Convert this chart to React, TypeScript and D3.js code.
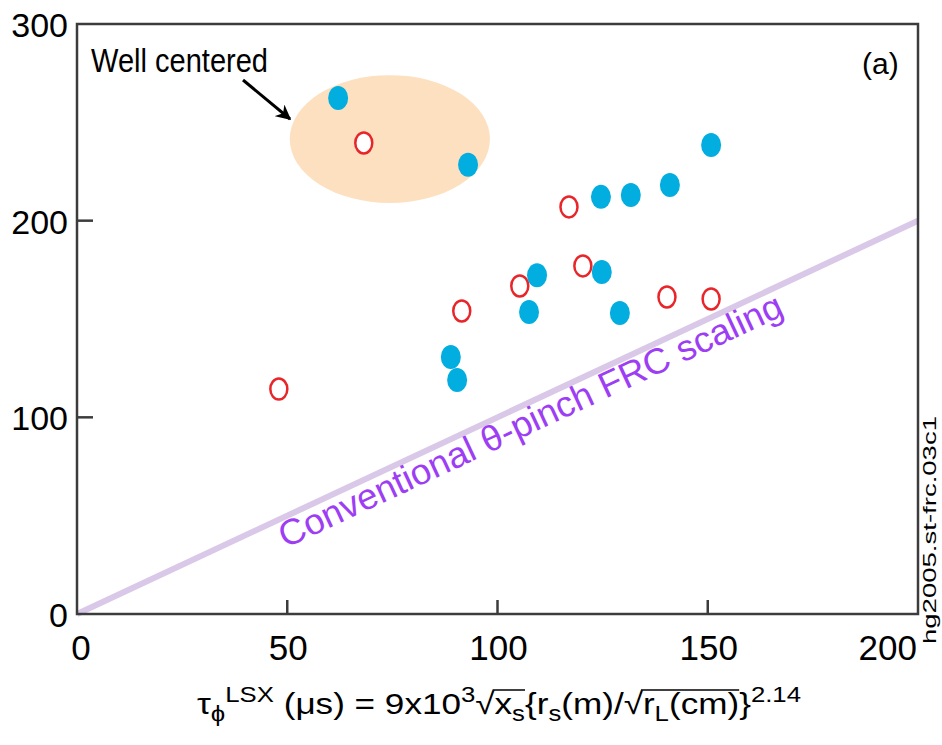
import React, { useLayoutEffect, useRef, useState } from "react";
import * as d3 from "d3";

// ---- data ----
const filledX = [62.1, 93.0, 150.8, 124.6, 131.7, 141.0, 109.4, 124.8, 107.5, 129.1, 88.9, 90.4];
const filledY = [262.4, 228.4, 238.5, 212.1, 213.1, 218.1, 172.3, 173.9, 153.6, 153.1, 130.7, 119.0];
const openX = [68.2, 117.0, 120.3, 105.3, 91.5, 140.3, 150.8, 48.0];
const openY = [239.5, 207.0, 177.0, 166.8, 154.1, 161.2, 160.2, 114.4];
const xTicks = [0, 50, 100, 150, 200];
const yTicks = [0, 100, 200, 300];
const scalingLine = [[0, 0], [200, 200]];
const wellCentered = { cx: 74.4, cy: 241.5, rx: 23.8, ry: 32.5 };

// x-axis title pieces: [text, kind]  kind: n normal, b subscript, p superscript
const titleParts: [string, string][] = [
  ["τ", "n"], ["ϕ", "b"], ["LSX", "p"], [" (μs) = 9x10", "n"], ["3", "p"], ["√", "n"],
  ["x", "n"], ["s", "b"], ["{r", "n"], ["s", "b"], ["(m)/√", "n"], ["r", "n"], ["L", "b"],
  ["(cm)", "n"], ["}", "n"], ["2.14", "p"],
];
const radicands = [[6, 7], [11, 13]]; // part index ranges under radical bars

const W = 942, H = 745;
const L = 77, R = 918, T = 24, B = 614;

export default function App() {
  const x = d3.scaleLinear().domain([0, 200]).range([L, R]);
  const y = d3.scaleLinear().domain([0, 300]).range([B, T]);
  const line = d3.line<number[]>().x(d => x(d[0])).y(d => y(d[1]));
  const ang = -Math.atan2(y(0) - y(200), x(200) - x(0)) * 180 / Math.PI;
  const font = "Liberation Sans, Arial, Helvetica, sans-serif";
  const sx = x(49.6), sy = y(0) - (x(49.6) - x(0)) * Math.tan(-ang * Math.PI / 180) + 32;

  const titleRef = useRef<SVGTextElement>(null);
  const [bars, setBars] = useState<{ x1: number; x2: number; y: number }[]>([]);
  useLayoutEffect(() => {
    const el = titleRef.current;
    if (!el) return;
    const starts: number[] = [];
    let c = 0;
    titleParts.forEach(p => { starts.push(c); c += p[0].length; });
    const out = radicands.map(([a, b]) => {
      const first = starts[a];
      const last = starts[b] + titleParts[b][0].length - 1;
      const e2 = el.getExtentOfChar(last);
      const rad = el.getExtentOfChar(first - 1);
      return { x1: rad.x + rad.width - 2, x2: e2.x + e2.width, y: rad.y + 3 };
    });
    setBars(out);
  }, []);

  let dyPrev = 0;
  const offs: Record<string, number> = { n: 0, b: 7, p: -12 };

  return (
    <svg width={W} height={H} style={{ position: "absolute", left: 0, top: 0, background: "#fff" }} fontFamily={font}>
      <rect width={W} height={H} fill="#fff" />
      {/* well centered region */}
      <ellipse cx={x(wellCentered.cx)} cy={y(wellCentered.cy)}
        rx={x(wellCentered.rx) - x(0)} ry={y(0) - y(wellCentered.ry)} fill="#fde0c0" />
      {/* scaling line */}
      <path d={line(scalingLine as any) || ""} stroke="#d9c8e8" strokeWidth={6} fill="none" />
      <text transform={`translate(${sx},${sy}) rotate(${ang})`} fontSize={36} fill="#9d3ef5"
        textLength={552} lengthAdjust="spacingAndGlyphs">Conventional θ-pinch FRC scaling</text>
      {/* frame */}
      <rect x={L} y={T} width={R - L} height={B - T} fill="none" stroke="#3c3c3c" strokeWidth={2.5} />
      {yTicks.filter(v => v > 0 && v < 300).map(v => (
        <line key={"yt" + v} x1={L} x2={L + 16} y1={y(v)} y2={y(v)} stroke="#3c3c3c" strokeWidth={2.5} />
      ))}
      {xTicks.filter(v => v > 0 && v < 200).map(v => (
        <line key={"xt" + v} x1={x(v)} x2={x(v)} y1={B} y2={B - 14} stroke="#3c3c3c" strokeWidth={2.5} />
      ))}
      {yTicks.map(v => (
        <text key={"yl" + v} x={68} y={y(v) + 13} fontSize={34} textAnchor="end">{v}</text>
      ))}
      {xTicks.map(v => (
        <text key={"xl" + v} x={v === 200 ? R - 1 : x(v) + (v === 0 ? 4 : 1)} y={660} fontSize={35}
          textAnchor={v === 200 ? "end" : "middle"}>{v}</text>
      ))}
      {/* points */}
      {openX.map((v, i) => (
        <ellipse key={"o" + i} cx={x(v)} cy={y(openY[i])} rx={8.5} ry={10.5} fill="#fff" stroke="#e8262a" strokeWidth={2.5} />
      ))}
      {filledX.map((v, i) => (
        <ellipse key={"f" + i} cx={x(v)} cy={y(filledY[i])} rx={10} ry={12} fill="#02ade0" />
      ))}
      {/* annotations */}
      <text x={91} y={72} fontSize={33} textLength={177} lengthAdjust="spacingAndGlyphs">Well centered</text>
      <defs>
        <marker id="ah" viewBox="0 0 10 10" refX={9} refY={5} markerWidth={5} markerHeight={5} orient="auto" markerUnits="strokeWidth">
          <path d="M0,0 L10,5 L0,10 L3,5 z" fill="#000" />
        </marker>
      </defs>
      <line x1={243} y1={80} x2={290} y2={119} stroke="#000" strokeWidth={3} markerEnd="url(#ah)" />
      <text x={862} y={74} fontSize={30}>(a)</text>
      <text transform={`translate(936,644) rotate(-90)`} fontSize={19} textLength={228} lengthAdjust="spacingAndGlyphs">hg2005.st-frc.03c1</text>
      {/* x axis title */}
      <text ref={titleRef} x={197} y={714} fontSize={30} textLength={604} lengthAdjust="spacingAndGlyphs">
        {titleParts.map(([t, k], i) => {
          const dy = offs[k] - dyPrev;
          dyPrev = offs[k];
          return <tspan key={i} dy={dy} fontSize={k === "n" ? 30 : 22}>{t}</tspan>;
        })}
      </text>
      {bars.map((b, i) => (
        <line key={"bar" + i} x1={b.x1} x2={b.x2} y1={b.y} y2={b.y} stroke="#000" strokeWidth={1.5} />
      ))}
    </svg>
  );
}
